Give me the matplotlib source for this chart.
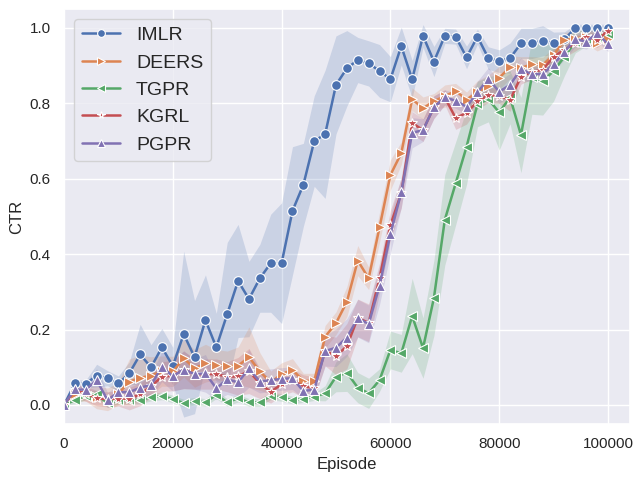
"""CTR vs episode for the five recommenders, with shaded spread bands."""
import numpy as np
import matplotlib
matplotlib.use("Agg")
import matplotlib.pyplot as plt
import seaborn as sns

# episodes, one point every 2000
episodes = np.arange(0, 100001, 2000)

methods = ['IMLR', 'DEERS', 'TGPR', 'KGRL', 'PGPR']
markers = ['o', '>', '<', '*', '^']

imlr = [0.0, 0.057, 0.056, 0.078, 0.071, 0.057, 0.084, 0.134, 0.100, 0.153,
        0.103, 0.188, 0.127, 0.225, 0.153, 0.241, 0.329, 0.281, 0.336, 0.376,
        0.376, 0.515, 0.584, 0.700, 0.718, 0.849, 0.893, 0.915, 0.906, 0.886,
        0.864, 0.952, 0.864, 0.979, 0.911, 0.979, 0.977, 0.922, 0.977, 0.920,
        0.912, 0.920, 0.959, 0.959, 0.966, 0.959, 0.970, 1.0, 1.0, 1.0, 1.0]
deers = [0.0, 0.03, 0.03, 0.02, 0.015, 0.03, 0.062, 0.072, 0.078, 0.09,
         0.089, 0.124, 0.097, 0.111, 0.107, 0.103, 0.104, 0.127, 0.089, 0.06,
         0.082, 0.093, 0.064, 0.064, 0.181, 0.217, 0.274, 0.383, 0.336, 0.471,
         0.610, 0.668, 0.811, 0.787, 0.806, 0.819, 0.833, 0.81, 0.83, 0.845,
         0.868, 0.896, 0.894, 0.904, 0.902, 0.928, 0.968, 0.972, 0.977, 0.959, 0.972]
tgpr = [0.0, 0.013, 0.024, 0.029, 0.004, 0.013, 0.013, 0.013, 0.021, 0.024,
        0.016, 0.005, 0.01, 0.007, 0.027, 0.007, 0.018, 0.007, 0.007, 0.024,
        0.02, 0.013, 0.017, 0.022, 0.031, 0.075, 0.086, 0.046, 0.031, 0.066,
        0.146, 0.137, 0.236, 0.151, 0.284, 0.491, 0.588, 0.685, 0.798, 0.811,
        0.776, 0.816, 0.716, 0.871, 0.859, 0.886, 0.924, 0.964, 0.972, 0.977, 0.984]
kgrl = [0.0, 0.04, 0.03, 0.018, 0.015, 0.017, 0.017, 0.028, 0.05, 0.075,
        0.078, 0.093, 0.082, 0.082, 0.082, 0.075, 0.076, 0.09, 0.057, 0.035,
        0.055, 0.065, 0.05, 0.045, 0.144, 0.13, 0.156, 0.231, 0.218, 0.336,
        0.477, 0.562, 0.748, 0.729, 0.790, 0.816, 0.761, 0.775, 0.805, 0.822,
        0.82, 0.809, 0.871, 0.884, 0.889, 0.924, 0.942, 0.959, 0.977, 0.968, 0.993]
pgpr = [0.0, 0.042, 0.04, 0.066, 0.013, 0.034, 0.034, 0.046, 0.053, 0.102,
        0.076, 0.094, 0.082, 0.084, 0.044, 0.068, 0.06, 0.097, 0.062, 0.066,
        0.069, 0.071, 0.037, 0.041, 0.143, 0.152, 0.179, 0.230, 0.215, 0.316,
        0.453, 0.564, 0.722, 0.729, 0.790, 0.816, 0.807, 0.791, 0.829, 0.865,
        0.831, 0.849, 0.891, 0.877, 0.878, 0.904, 0.937, 0.970, 0.964, 0.986, 0.957]

# half width of the shaded band around each line
imlr_err = [0, 0.01, 0.01, 0.03, 0.02, 0.02, 0.03, 0.08, 0.06, 0.05,
            0.05, 0.22, 0.15, 0.12, 0.09, 0.19, 0.15, 0.1, 0.09, 0.13,
            0.16, 0.17, 0.11, 0.12, 0.17, 0.13, 0.1, 0.06, 0.06, 0.07,
            0.06, 0.05, 0.05, 0.03, 0.04, 0.02, 0.02, 0.03, 0.02, 0.03,
            0.03, 0.04, 0.04, 0.04, 0.04, 0.03, 0.02, 0.01, 0.01, 0.01, 0.01]
deers_err = [0, 0.02, 0.02, 0.03, 0.03, 0.03, 0.06, 0.06, 0.05, 0.04,
             0.04, 0.05, 0.05, 0.05, 0.04, 0.04, 0.05, 0.08, 0.05, 0.03,
             0.03, 0.03, 0.02, 0.02, 0.03, 0.03, 0.04, 0.04, 0.03, 0.04,
             0.04, 0.03, 0.03, 0.03, 0.02, 0.03, 0.02, 0.02, 0.03, 0.03,
             0.03, 0.03, 0.03, 0.02, 0.02, 0.02, 0.02, 0.02, 0.02, 0.02, 0.02]
tgpr_err = [0, 0.01, 0.01, 0.01, 0.01, 0.01, 0.01, 0.01, 0.01, 0.01,
            0.01, 0.01, 0.01, 0.01, 0.01, 0.01, 0.01, 0.01, 0.01, 0.01,
            0.01, 0.01, 0.01, 0.01, 0.02, 0.04, 0.05, 0.04, 0.04, 0.03,
            0.05, 0.05, 0.1, 0.08, 0.1, 0.12, 0.11, 0.1, 0.06, 0.06,
            0.1, 0.07, 0.1, 0.1, 0.09, 0.08, 0.05, 0.03, 0.02, 0.02, 0.02]
kgrl_err = [0, 0.02, 0.02, 0.02, 0.02, 0.02, 0.03, 0.03, 0.03, 0.04,
            0.04, 0.05, 0.04, 0.04, 0.04, 0.04, 0.05, 0.06, 0.04, 0.03,
            0.03, 0.03, 0.03, 0.03, 0.04, 0.05, 0.06, 0.05, 0.05, 0.04,
            0.04, 0.04, 0.03, 0.03, 0.03, 0.02, 0.03, 0.03, 0.02, 0.02,
            0.02, 0.03, 0.02, 0.02, 0.02, 0.02, 0.02, 0.02, 0.02, 0.02, 0.02]
pgpr_err = [0, 0.02, 0.02, 0.03, 0.02, 0.02, 0.03, 0.03, 0.03, 0.04,
            0.04, 0.05, 0.04, 0.05, 0.03, 0.04, 0.04, 0.05, 0.03, 0.03,
            0.03, 0.03, 0.02, 0.02, 0.04, 0.05, 0.05, 0.05, 0.05, 0.05,
            0.05, 0.04, 0.04, 0.03, 0.03, 0.02, 0.02, 0.02, 0.03, 0.03,
            0.03, 0.03, 0.03, 0.02, 0.02, 0.02, 0.02, 0.02, 0.02, 0.02, 0.02]

series = [imlr, deers, tgpr, kgrl, pgpr]
errors = [imlr_err, deers_err, tgpr_err, kgrl_err, pgpr_err]

sns.set_theme(style='darkgrid')
plt.rcParams['font.family'] = ['Liberation Sans', 'DejaVu Sans']
colors = sns.color_palette('deep')

fig, ax = plt.subplots(figsize=(6.4, 4.8), dpi=100)

for i, name in enumerate(methods):
    y = np.array(series[i])
    e = np.array(errors[i])
    ax.fill_between(episodes, y - e, y + e, color=colors[i], alpha=0.2, linewidth=0)
    ax.plot(episodes, y, color=colors[i], marker=markers[i], markersize=7,
            markeredgecolor='white', markeredgewidth=0.8, linewidth=1.8, label=name)

ax.set_xlim(0, 104000)
ax.set_ylim(-0.05, 1.05)
ax.set_xlabel('Episode', fontsize=12)
ax.set_ylabel('CTR', fontsize=12)
ax.tick_params(labelsize=11)
ax.legend(loc='upper left', fontsize=14, markerscale=0.8)

# tight margins like the original figure
fig.subplots_adjust(left=0.1, right=0.984, top=0.981, bottom=0.117)
plt.savefig('out.png', dpi=100)
